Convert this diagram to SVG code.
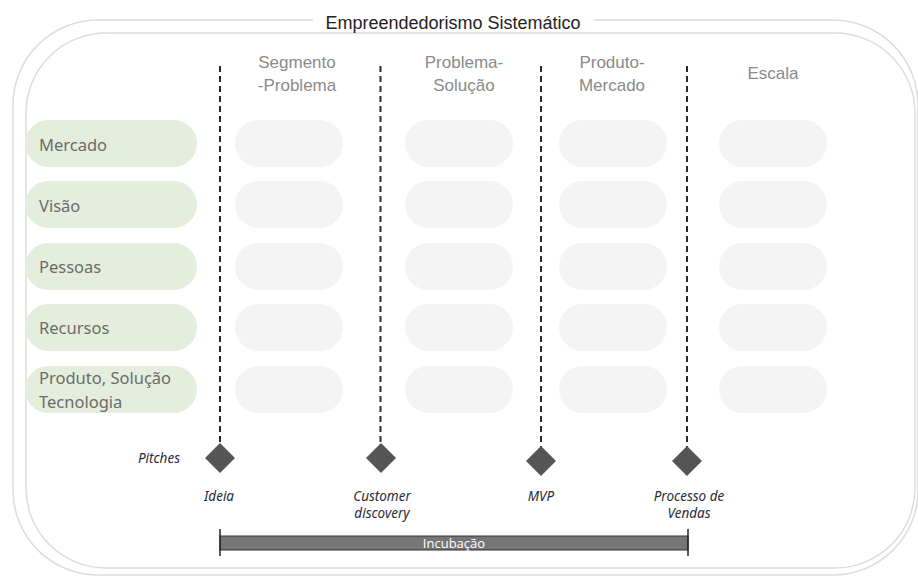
<svg xmlns="http://www.w3.org/2000/svg" width="918" height="576" viewBox="0 0 918 576">
<style>
.frame{fill:none;stroke:#dcdcdc;stroke-width:1.5}
.row{fill:#e5eedd}
.cell{fill:#f4f4f4}
.rowt{font-family:"Noto Sans",sans-serif;font-size:16.5px;fill:#6b6b6b}
.head{font-family:"Liberation Sans",sans-serif;font-size:17px;fill:#8a8a8a;text-anchor:middle}
.dash{stroke:#2a2a2a;stroke-width:2;stroke-dasharray:6 4;fill:none}
.dia{fill:#555555}
.ms{font-family:"Noto Sans",sans-serif;font-style:italic;font-size:13.5px;fill:#2b2b3b;text-anchor:middle}
</style>
<rect width="918" height="576" fill="#ffffff"/>
<g id="frame">
<rect class="frame" x="13" y="20" width="905" height="555" rx="85"/>
<rect class="frame" x="26" y="33" width="889" height="535" rx="80"/>
<rect x="313" y="11" width="281" height="20" fill="#ffffff"/>
<text x="453" y="29" font-family="Liberation Sans, sans-serif" font-size="18" fill="#222222" text-anchor="middle">Empreendedorismo Sistemático</text>
</g>
<g id="headers">
<text class="head" x="297" y="68">Segmento</text>
<text class="head" x="297" y="91">-Problema</text>
<text class="head" x="464" y="68">Problema-</text>
<text class="head" x="464" y="91">Solução</text>
<text class="head" x="612" y="68">Produto-</text>
<text class="head" x="612" y="91">Mercado</text>
<text class="head" x="773" y="79">Escala</text>
</g>
<g id="rows">
<g id="row-mercado"><rect class="row" x="25" y="120" width="172" height="47" rx="23.5"/><text class="rowt" x="39" y="151">Mercado</text></g>
<g id="row-visao"><rect class="row" x="25" y="181" width="172" height="47" rx="23.5"/><text class="rowt" x="39" y="212">Visão</text></g>
<g id="row-pessoas"><rect class="row" x="25" y="243" width="172" height="47" rx="23.5"/><text class="rowt" x="39" y="273">Pessoas</text></g>
<g id="row-recursos"><rect class="row" x="25" y="304" width="172" height="47" rx="23.5"/><text class="rowt" x="39" y="334">Recursos</text></g>
<g id="row-produto"><rect class="row" x="25" y="366" width="172" height="47" rx="23.5"/><text class="rowt" x="39" y="384">Produto, Solução</text><text class="rowt" x="39" y="408">Tecnologia</text></g>
</g>
<g id="cells">
<rect class="cell" x="235" y="120" width="108" height="47" rx="23.5"/>
<rect class="cell" x="235" y="181" width="108" height="47" rx="23.5"/>
<rect class="cell" x="235" y="243" width="108" height="47" rx="23.5"/>
<rect class="cell" x="235" y="304" width="108" height="47" rx="23.5"/>
<rect class="cell" x="235" y="366" width="108" height="47" rx="23.5"/>
<rect class="cell" x="405" y="120" width="108" height="47" rx="23.5"/>
<rect class="cell" x="405" y="181" width="108" height="47" rx="23.5"/>
<rect class="cell" x="405" y="243" width="108" height="47" rx="23.5"/>
<rect class="cell" x="405" y="304" width="108" height="47" rx="23.5"/>
<rect class="cell" x="405" y="366" width="108" height="47" rx="23.5"/>
<rect class="cell" x="559" y="120" width="108" height="47" rx="23.5"/>
<rect class="cell" x="559" y="181" width="108" height="47" rx="23.5"/>
<rect class="cell" x="559" y="243" width="108" height="47" rx="23.5"/>
<rect class="cell" x="559" y="304" width="108" height="47" rx="23.5"/>
<rect class="cell" x="559" y="366" width="108" height="47" rx="23.5"/>
<rect class="cell" x="719" y="120" width="108" height="47" rx="23.5"/>
<rect class="cell" x="719" y="181" width="108" height="47" rx="23.5"/>
<rect class="cell" x="719" y="243" width="108" height="47" rx="23.5"/>
<rect class="cell" x="719" y="304" width="108" height="47" rx="23.5"/>
<rect class="cell" x="719" y="366" width="108" height="47" rx="23.5"/>
</g>
<g id="connectors">
<line class="dash" x1="220" y1="66" x2="220" y2="452"/>
<line class="dash" x1="380.5" y1="66" x2="380.5" y2="452"/>
<line class="dash" x1="541" y1="66" x2="541" y2="452"/>
<line class="dash" x1="687" y1="66" x2="687" y2="452"/>
</g>
<g id="milestones">
<g id="m-ideia"><polygon class="dia" points="220,443 235,458 220,473 205,458"/><text class="ms" x="219" y="501">Ideia</text></g>
<g id="m-customer"><polygon class="dia" points="381,443 396,458 381,473 366,458"/><text class="ms" x="382" y="501">Customer</text><text class="ms" x="382" y="518">discovery</text></g>
<g id="m-mvp"><polygon class="dia" points="541,446 556,461 541,476 526,461"/><text class="ms" x="541" y="501">MVP</text></g>
<g id="m-vendas"><polygon class="dia" points="687,446 702,461 687,476 672,461"/><text class="ms" x="689" y="501">Processo de</text><text class="ms" x="689" y="518">Vendas</text></g>
<text class="ms" x="180" y="463" style="text-anchor:end">Pitches</text>
</g>
<g id="incubacao">
<rect x="220" y="536" width="468" height="14" fill="#767676" stroke="#333333" stroke-width="1"/>
<line x1="220" y1="529" x2="220" y2="556" stroke="#222222" stroke-width="1.5"/>
<line x1="688" y1="529" x2="688" y2="556" stroke="#222222" stroke-width="1.5"/>
<text x="454" y="548" font-family="Open Sans, sans-serif" font-size="13" fill="#ffffff" text-anchor="middle">Incubação</text>
</g>
</svg>
